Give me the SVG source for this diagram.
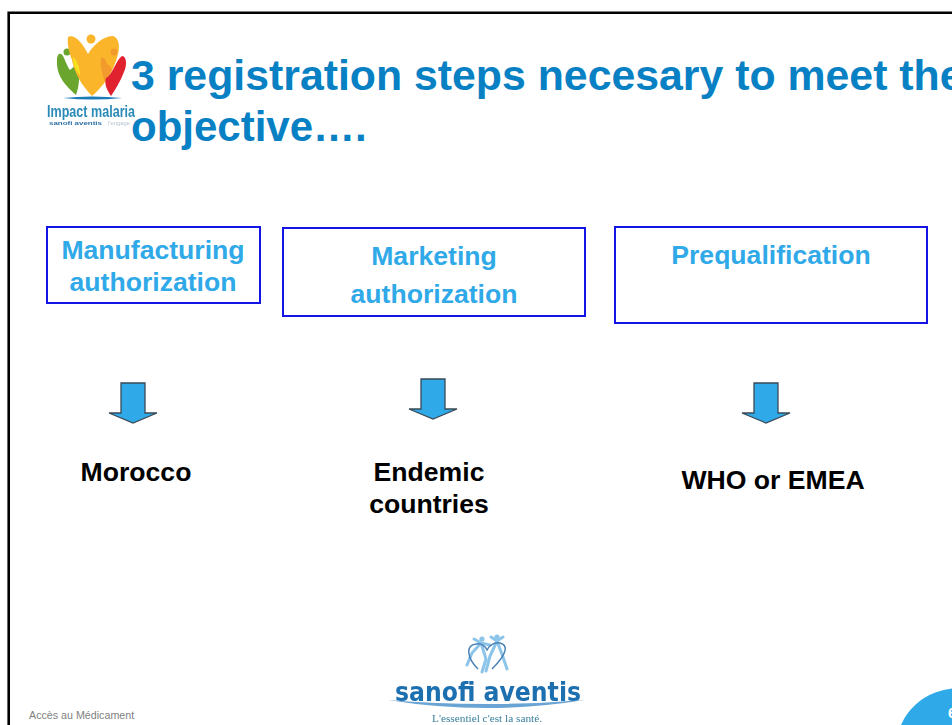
<svg xmlns="http://www.w3.org/2000/svg" width="952" height="725" viewBox="0 0 952 725">
<style>
text{font-family:"Liberation Sans",Arial,sans-serif}
.title{font-weight:700;fill:#0880c4}
.head{font-size:26.6px;font-weight:700;fill:#2fa9e8;text-anchor:middle}
.dest{font-size:26.6px;font-weight:700;fill:#000;text-anchor:middle}
.box{fill:#fff;stroke:#1414e6;stroke-width:2}
.arrow{fill:#2fa9e8;stroke:#3a4a55;stroke-width:1.3}
.fig{fill:none;stroke:#8cc4ea;stroke-width:3;stroke-linecap:round}
</style>
<defs><filter id="soft" x="-5%" y="-5%" width="110%" height="110%"><feGaussianBlur stdDeviation="0.5"/></filter></defs>
<rect width="952" height="725" fill="#fff"/>
<path d="M8.7 725V12.8H952" fill="none" stroke="#000" stroke-width="2.6"/>
<g id="logo-impact" filter="url(#soft)">
<path d="M57 60C57 53 61 52 63 56C66 62 68 68 70 70L77 64C80 72 80 84 76 95C66 86 56 76 57 60Z" fill="#6aa62f"/>
<circle cx="67" cy="52" r="3.5" fill="#6aa62f"/>
<path d="M68 37C74 34 82 42 88 54C94 44 104 36 113 36C119 38 120 46 118 54C114 72 102 88 92 96C82 86 74 72 72 60C69 52 67 44 68 37Z" fill="#fbb52b"/>
<circle cx="91" cy="39" r="4.5" fill="#fbb52b"/>
<path d="M73 57C77 60 80 68 80 75C76 72 73 64 73 57Z" fill="#f6e21c"/>
<circle cx="114" cy="52" r="3.5" fill="#f39a2d"/>
<path d="M101 58C104 56 106 60 107 64C110 66 112 68 112 70C110 74 108 78 105 82C102 74 100 66 101 58Z" fill="#f39a2d"/>
<path d="M122 56C127 56 127 66 124 72C120 82 115 90 111 96C107 90 104 84 106 78C112 76 116 60 122 56Z" fill="#e0202f"/>
<path d="M63 98Q92 95 122 98Q92 101 63 98Z" fill="#1a7ab8"/>
<text x="47" y="117" font-size="16.5" font-weight="700" fill="#2b8ab8" textLength="88" lengthAdjust="spacingAndGlyphs">Impact malaria</text>
<text x="49" y="125" font-size="6" font-weight="700" fill="#2a6fa8" textLength="53" lengthAdjust="spacingAndGlyphs">sanofi aventis</text>
<text x="108" y="125" font-size="5.5" fill="#b5c4cf" textLength="22" lengthAdjust="spacingAndGlyphs">l'engage</text>
</g>
<g id="title">
<text class="title" font-size="42.8" x="131" y="90">3 registration steps necesary to meet the</text>
<text class="title" font-size="42" x="131" y="141">objective….</text>
</g>
<g id="node-manufacturing">
<rect class="box" x="47" y="227" width="213" height="76"/>
<text class="head" x="153" y="259">Manufacturing</text>
<text class="head" x="153" y="291">authorization</text>
</g>
<g id="node-marketing">
<rect class="box" x="283" y="228" width="302" height="88"/>
<text class="head" x="434" y="265">Marketing</text>
<text class="head" x="434" y="303">authorization</text>
</g>
<g id="node-prequalification">
<rect class="box" x="615" y="227" width="312" height="96"/>
<text class="head" x="771" y="264">Prequalification</text>
</g>
<g id="connectors">
<path class="arrow" d="M121 383H145V413H157L133 423L109 413H121Z"/>
<path class="arrow" d="M421 379H445V409H457L433 419L409 409H421Z"/>
<path class="arrow" d="M754 383H778V413H790L766 423L742 413H754Z"/>
</g>
<g id="node-morocco"><text class="dest" x="136" y="481">Morocco</text></g>
<g id="node-endemic">
<text class="dest" x="429" y="481">Endemic</text>
<text class="dest" x="429" y="513">countries</text>
</g>
<g id="node-who"><text class="dest" x="773" y="489">WHO or EMEA</text></g>
<g id="logo-sanofi" filter="url(#soft)">
<path class="fig" d="M481 643L472 653L467 665M481 643L486 659L482 672M481 643L474 639M481 643L490 645"/>
<path class="fig" d="M497 641L490 656L486 671M497 641L503 657L507 669M497 641L503 637M497 641L491 637"/>
<circle cx="482" cy="639" r="2.6" fill="#8cc4ea"/>
<circle cx="497" cy="637" r="2.6" fill="#8cc4ea"/>
<path d="M478 669C466 657 466 645 476 644C481 643 485 646 487 650C490 644 496 642 500 643C508 645 508 653 492 669" fill="none" stroke="#4a80b4" stroke-width="1.4"/>
<text x="395" y="701" font-size="26" font-weight="700" fill="#1f6fb0" textLength="186" lengthAdjust="spacingAndGlyphs" style="font-family:'DejaVu Sans',sans-serif">sanofi aventis</text>
<path d="M388 700Q486 716 585 700Q486 708 388 700Z" fill="#6aa4d4"/>
<text x="432" y="722" font-size="11.3" fill="#3a7f9c" textLength="110" lengthAdjust="spacing" style="font-family:'Liberation Serif',serif">L'essentiel c'est la santé.</text>
</g>
<g id="footer">
<text x="29" y="719" font-size="10.7" fill="#808080">Accès au Médicament</text>
</g>
<g id="page-badge">
<ellipse cx="960" cy="745" rx="63" ry="57" fill="#2fa9e8"/>
<text x="948" y="718" font-size="15" font-weight="700" fill="#fff">6</text>
</g>
</svg>
